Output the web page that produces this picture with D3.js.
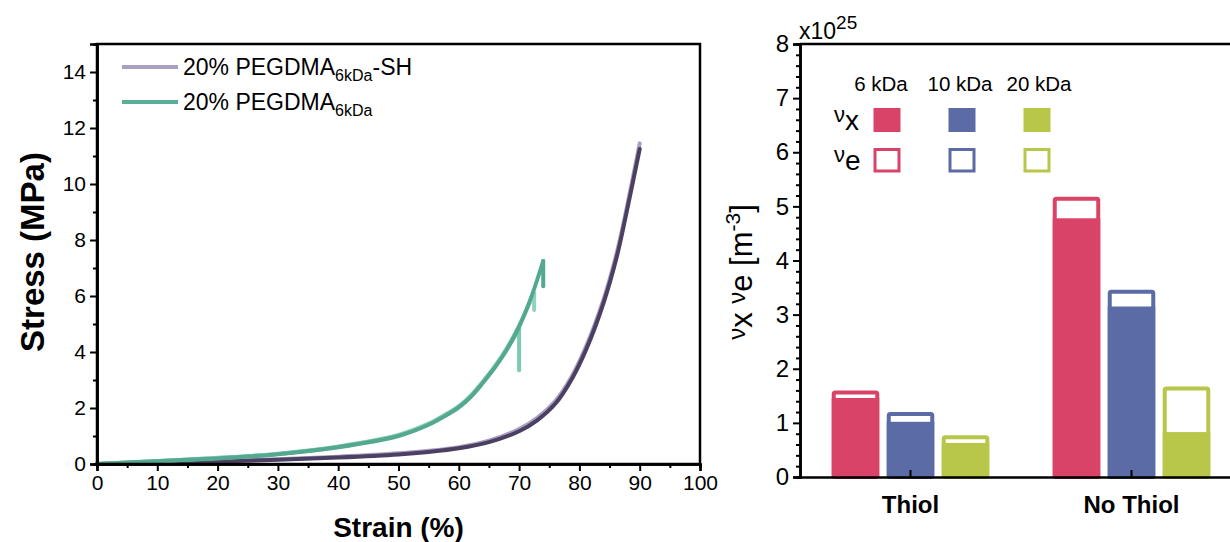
<!DOCTYPE html>
<html lang="en">
<head>
<meta charset="utf-8">
<title>Stress-strain and crosslink density</title>
<script src="https://cdn.jsdelivr.net/npm/d3@7"></script>
<style>
  body { margin: 0; background: #fff; }
  svg { display: block; font-family: Arial, "Liberation Sans", sans-serif; }
</style>
</head>
<body>
<script>
// ---- left panel: stress-strain curves (replicates) ----
var shStrain = [0, 10, 20, 30, 40, 50, 55, 60, 65, 70, 73, 76, 78.7, 81.2, 84, 86.2, 87.8, 90];
var shStressLight = [0, 0.06, 0.11, 0.17, 0.26, 0.38, 0.47, 0.6, 0.83, 1.25, 1.65, 2.25, 3.12, 4.25, 5.88, 7.55, 9.1, 11.45];
var shStressDark = [0, 0.04, 0.09, 0.15, 0.23, 0.34, 0.43, 0.56, 0.78, 1.17, 1.56, 2.15, 3.02, 4.13, 5.75, 7.4, 8.96, 11.25];

var gStrainA = [0, 10, 20, 30, 40, 50, 55, 58, 60, 62, 64, 66, 68, 70, 72, 74, 74];
var gStressA = [0, 0.1, 0.2, 0.35, 0.6, 1.0, 1.4, 1.75, 2.02, 2.4, 2.9, 3.45, 4.1, 4.9, 5.95, 7.25, 6.35];
var gStrainB = [0, 10, 20, 30, 40, 50, 55, 58, 60, 62, 64, 66, 68, 70, 72.5, 72.5];
var gStressB = [0, 0.11, 0.22, 0.37, 0.63, 1.04, 1.44, 1.8, 2.07, 2.45, 2.95, 3.5, 4.15, 4.95, 6.1, 5.5];
var gStrainC = [0, 10, 20, 30, 40, 50, 55, 58, 60, 62, 64, 66, 68, 70, 70];
var gStressC = [0, 0.1, 0.21, 0.36, 0.61, 1.02, 1.42, 1.77, 2.04, 2.42, 2.92, 3.47, 4.1, 4.85, 3.35];

var xTicks = [0, 10, 20, 30, 40, 50, 60, 70, 80, 90, 100];
var yTicks = [0, 2, 4, 6, 8, 10, 12, 14];

// ---- right panel: crosslink densities (x10^25 m^-3) ----
var groups = ["Thiol", "No Thiol"];
var kDa = ["6 kDa", "10 kDa", "20 kDa"];
var nuXThiol = [1.46, 1.02, 0.63];
var nuXNoThiol = [4.78, 3.15, 0.83];
var nuEThiol = [1.6, 1.2, 0.77];
var nuENoThiol = [5.18, 3.46, 1.67];
var rTicks = [0, 1, 2, 3, 4, 5, 6, 7, 8];

var barColors = ["#d94368", "#5a6ba6", "#b8c64a"];

var svg = d3.select("body").append("svg").attr("width", 1230).attr("height", 542);

// ================= left =================
var L = {x0: 97, x1: 700, y0: 464, y1: 44};
var xs = d3.scaleLinear().domain([0, 100]).range([L.x0, L.x1]);
var ys = d3.scaleLinear().domain([0, 15]).range([L.y0, L.y1]);

var curves = [
  {x: shStrain, y: shStressLight, c: "#a99fc2"},
  {x: shStrain, y: shStressDark, c: "#4b3f62"},
  {x: gStrainB, y: gStressB, c: "#8fd2bd"},
  {x: gStrainC, y: gStressC, c: "#7dc9b2"},
  {x: gStrainA, y: gStressA, c: "#53a88f"}
];
var line = d3.line().x(function (d) { return xs(d[0]); }).y(function (d) { return ys(d[1]); }).curve(d3.curveCatmullRom.alpha(0.5));
var lineStraight = d3.line().x(function (d) { return xs(d[0]); }).y(function (d) { return ys(d[1]); });

curves.forEach(function (cv) {
  var pts = cv.x.map(function (v, i) { return [v, cv.y[i]]; });
  var n = pts.length;
  // last point of the green replicates is the vertical drop at break
  var dropped = cv.x[n - 1] === cv.x[n - 2];
  var main = dropped ? pts.slice(0, n - 1) : pts;
  svg.append("path").attr("d", line(main)).attr("fill", "none")
    .attr("stroke", cv.c).attr("stroke-width", 4).attr("stroke-linecap", "round");
  if (dropped) {
    svg.append("path").attr("d", lineStraight(pts.slice(n - 2))).attr("fill", "none")
      .attr("stroke", cv.c).attr("stroke-width", 4).attr("stroke-linecap", "round");
  }
});

var ax = svg.append("g").attr("transform", "translate(0," + L.y0 + ")")
  .call(d3.axisBottom(xs).tickValues(xTicks).tickSize(7).tickPadding(4));
svg.append("g").attr("transform", "translate(0," + L.y0 + ")")
  .call(d3.axisBottom(xs).tickValues(d3.range(5, 100, 10)).tickSize(4).tickFormat(""));
var ay = svg.append("g").attr("transform", "translate(" + L.x0 + ",0)")
  .call(d3.axisLeft(ys).tickValues(yTicks).tickSize(7).tickPadding(4));
svg.append("g").attr("transform", "translate(" + L.x0 + ",0)")
  .call(d3.axisLeft(ys).tickValues(d3.range(1, 15, 2)).tickSize(4).tickFormat(""));

svg.append("rect").attr("x", L.x0).attr("y", L.y1).attr("width", L.x1 - L.x0).attr("height", L.y0 - L.y1)
  .attr("fill", "none").attr("stroke", "#000").attr("stroke-width", 2.5);

svg.append("text").attr("x", (L.x0 + L.x1) / 2).attr("y", 537).attr("text-anchor", "middle")
  .attr("font-size", 28).attr("font-weight", "bold").text("Strain (%)");
svg.append("text").attr("transform", "translate(44,252) rotate(-90)").attr("text-anchor", "middle")
  .attr("font-size", 33).attr("font-weight", "bold").text("Stress (MPa)");

// legend
var legL = [{c: "#a99fc2", y: 67, sh: true}, {c: "#5aae96", y: 102, sh: false}];
legL.forEach(function (d) {
  svg.append("line").attr("x1", 122).attr("x2", 178).attr("y1", d.y).attr("y2", d.y)
    .attr("stroke", d.c).attr("stroke-width", 4);
  var t = svg.append("text").attr("x", 183).attr("y", d.y + 8).attr("font-size", 23);
  t.append("tspan").text("20% PEGDMA");
  t.append("tspan").attr("font-size", 16).attr("dy", 6).text("6kDa");
  if (d.sh) t.append("tspan").attr("dy", -6).text("-SH");
});

// ================= right =================
var R = {x0: 800, x1: 1242, y0: 477, y1: 44};
var gx = d3.scaleBand().domain(groups).range([R.x0, R.x1]);
var bx = d3.scaleBand().domain(kDa).range([-82.5, 82.5]).paddingInner(0.136).paddingOuter(0.068);
var ry = d3.scaleLinear().domain([0, 8]).range([R.y0, R.y1]);

var barData = [];
groups.forEach(function (g, gi) {
  var nx = gi === 0 ? nuXThiol : nuXNoThiol;
  var ne = gi === 0 ? nuEThiol : nuENoThiol;
  kDa.forEach(function (k, ki) {
    barData.push({g: g, k: k, nx: nx[ki], ne: ne[ki], c: barColors[ki]});
  });
});

var bw = bx.bandwidth();
var bars = svg.append("g");
// hollow nu_e bars first
bars.selectAll("rect.ne").data(barData).enter().append("rect").attr("class", "ne")
  .attr("x", function (d) { return gx(d.g) + gx.bandwidth() / 2 + bx(d.k) + 2; })
  .attr("y", function (d) { return ry(d.ne) + 2; })
  .attr("width", bw - 4)
  .attr("height", function (d) { return ry(0) - ry(d.ne) - 2; })
  .attr("fill", "#fff").attr("stroke", function (d) { return d.c; }).attr("stroke-width", 4)
  .attr("rx", 1.5);
// filled nu_x bars
bars.selectAll("rect.nx").data(barData).enter().append("rect").attr("class", "nx")
  .attr("x", function (d) { return gx(d.g) + gx.bandwidth() / 2 + bx(d.k); })
  .attr("y", function (d) { return ry(d.nx); })
  .attr("width", bw)
  .attr("height", function (d) { return ry(0) - ry(d.nx); })
  .attr("fill", function (d) { return d.c; });

var ryAxis = svg.append("g").attr("transform", "translate(" + R.x0 + ",0)")
  .call(d3.axisLeft(ry).tickValues(rTicks).tickSize(7).tickPadding(4));
svg.append("g").attr("transform", "translate(" + R.x0 + ",0)")
  .call(d3.axisLeft(ry).tickValues(d3.range(0, 8.001, 0.2).filter(function (v) { return Math.abs(v - Math.round(v)) > 0.01; })).tickSize(4).tickFormat(""));
var rxAxis = svg.append("g").attr("transform", "translate(0," + R.y0 + ")")
  .call(d3.axisBottom(gx).tickSize(-7).tickPadding(14).tickSizeOuter(0));
rxAxis.selectAll("text").attr("font-weight", "bold").attr("font-size", 24).attr("dy", "0.9em").attr("fill", "#000");
svg.append("line").attr("x1", R.x0).attr("x2", 1230).attr("y1", R.y1).attr("y2", R.y1)
  .attr("stroke", "#000").attr("stroke-width", 2.5);

// exponent label
var ex = svg.append("text").attr("x", 799).attr("y", 39).attr("font-size", 23);
ex.append("tspan").text("x10");
ex.append("tspan").attr("font-size", 19).attr("dy", -10).text("25");

// y title
var yt = svg.append("text").attr("transform", "translate(752,272) rotate(-90)").attr("text-anchor", "middle")
  .attr("font-size", 31);
yt.append("tspan").attr("font-size", 24).attr("dy", -7).text("ν");
yt.append("tspan").attr("dy", 7).text("x ");
yt.append("tspan").attr("font-size", 24).attr("dy", -7).text("ν");
yt.append("tspan").attr("dy", 7).text("e [m");
yt.append("tspan").attr("font-size", 21).attr("dy", -12).text("-3");
yt.append("tspan").attr("dy", 12).text("]");

// legend
kDa.forEach(function (k, i) {
  var cx = 887 + i * 75;
  svg.append("text").attr("x", cx - 6 + i * 4).attr("y", 91).attr("text-anchor", "middle")
    .attr("font-size", 20.5).text(k);
  svg.append("rect").attr("x", cx - 13.5).attr("y", 108).attr("width", 27).attr("height", 24)
    .attr("fill", barColors[i]);
  svg.append("rect").attr("x", cx - 12).attr("y", 149.5).attr("width", 24).attr("height", 21.5)
    .attr("fill", "#fff").attr("stroke", barColors[i]).attr("stroke-width", 3);
});
[["x", 130], ["e", 170]].forEach(function (d) {
  var t = svg.append("text").attr("x", 834).attr("y", d[1]).attr("font-size", 28);
  t.append("tspan").attr("font-size", 22).attr("dy", -8).text("ν");
  t.append("tspan").attr("dy", 8).text(d[0]);
});

// axis styling
svg.selectAll(".domain").attr("stroke-width", 2.5);
svg.selectAll(".tick line").attr("stroke-width", 2);
ax.selectAll("text").attr("font-size", 21).attr("fill", "#000");
ay.selectAll("text").attr("font-size", 21).attr("fill", "#000");
ryAxis.selectAll("text").attr("font-size", 24).attr("fill", "#000");
</script>
</body>
</html>
